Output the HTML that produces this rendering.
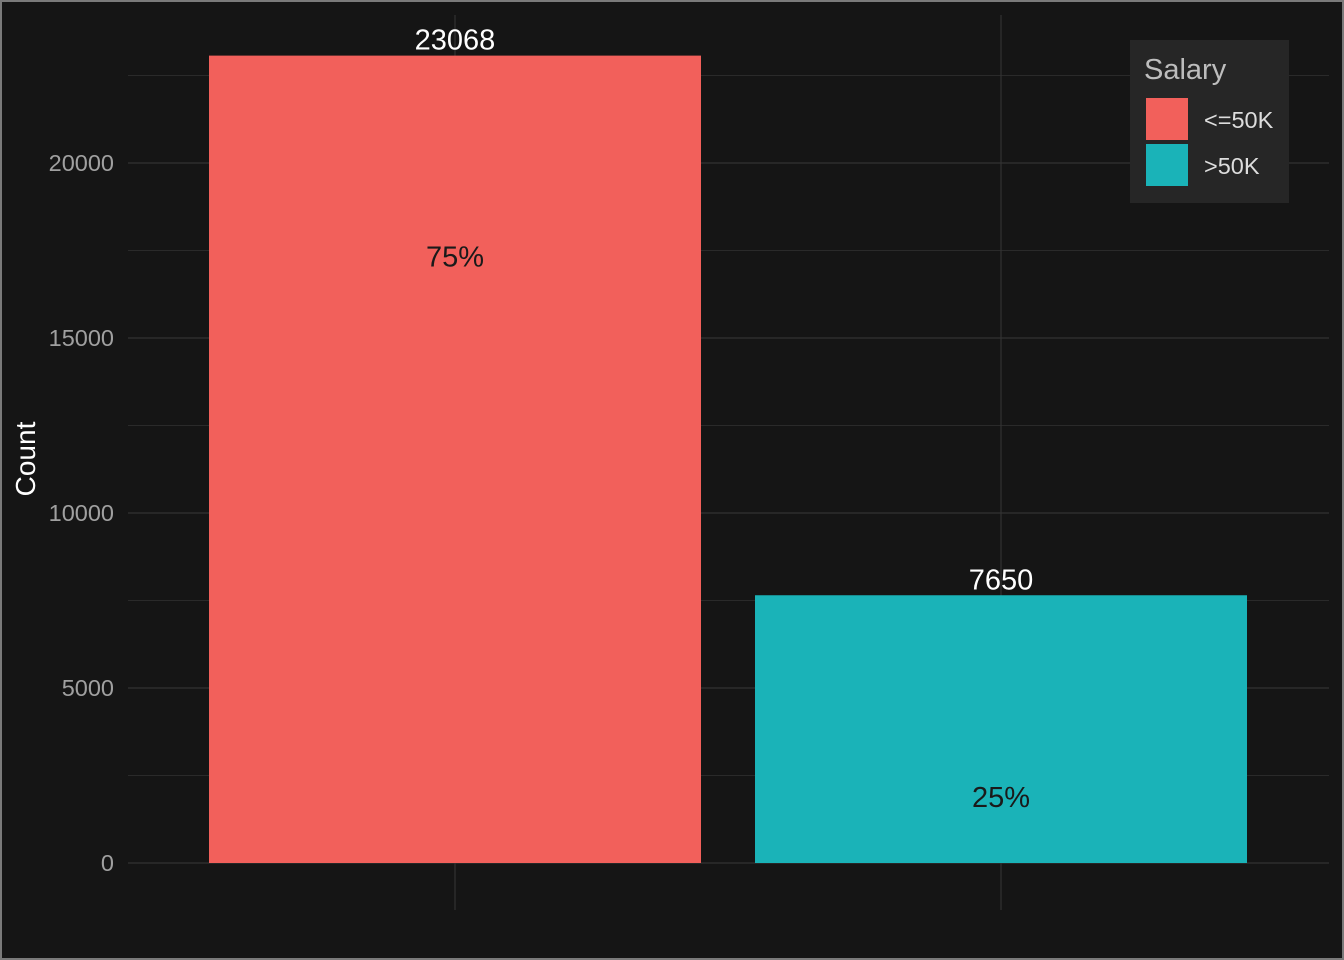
<!DOCTYPE html>
<html><head><meta charset="utf-8"><style>
html,body{margin:0;padding:0;background:#151515;}
svg{display:block;font-family:"Liberation Sans",Arial,sans-serif;}
</style></head><body>
<svg id="chart" width="1344" height="960">
<rect x="1" y="1" width="1342" height="958" fill="#151515" stroke="#7a7a7a" stroke-width="2"/>
<g id="grid"></g><g id="bars"></g><g id="labels"></g>
<text x="35" y="459" transform="rotate(-90 35 459)" text-anchor="middle" fill="#ffffff" font-size="28">Count</text>
<g>
<rect x="1130" y="40" width="159" height="163" fill="#262626"/>
<text x="1144" y="79" fill="#bdbdbd" font-size="29">Salary</text>
<rect x="1146" y="98" width="42" height="42" fill="#F2605B"/>
<text x="1204" y="128" fill="#dddddd" font-size="23.5">&lt;=50K</text>
<rect x="1146" y="144" width="42" height="42" fill="#1AB3B8"/>
<text x="1204" y="174" fill="#dddddd" font-size="23.5">&gt;50K</text>
</g>
</svg>
<script>
const categories = ["<=50K", ">50K"];
const counts = [23068, 7650];
const percents = ["75%", "25%"];
const colors = ["#F2605B", "#1AB3B8"];
const yTicks = [0, 5000, 10000, 15000, 20000];
const yMinor = [2500, 7500, 12500, 17500, 22500];
const NS = "http://www.w3.org/2000/svg";
const y = v => 863 - v * 0.035;
const xc = i => 455 + i * 546;
const barW = 492;
function mk(tag, attrs, parent){const e=document.createElementNS(NS,tag);for(const k in attrs)e.setAttribute(k,attrs[k]);parent.appendChild(e);return e;}
const grid=document.getElementById('grid'), bars=document.getElementById('bars'), labels=document.getElementById('labels');
yMinor.forEach(v=>{const l=mk('line',{x1:128,x2:1329,y1:y(v),y2:y(v),stroke:'#2a2a2a','stroke-width':1},grid);

});
yTicks.forEach(v=>{const l=mk('line',{x1:128,x2:1329,y1:y(v),y2:y(v),stroke:'#333333','stroke-width':1.2},grid);


const t=mk('text',{x:114,y:y(v)+8,'text-anchor':'end',fill:'#a0a0a0','font-size':23.5},grid);t.textContent=v;

});
categories.forEach((c,i)=>{const l=mk('line',{x1:xc(i),x2:xc(i),y1:15,y2:910,stroke:'#333333','stroke-width':1.2},grid);

});
categories.forEach((c,i)=>{
const r=mk('rect',{x:xc(i)-barW/2,y:y(counts[i]),width:barW,height:y(0)-y(counts[i]),fill:colors[i]},bars);


const t=mk('text',{x:xc(i),y:y(counts[i])-6,'text-anchor':'middle',fill:'#ffffff','font-size':29},labels);t.textContent=counts[i];


const p=mk('text',{x:xc(i),y:(i ? y(0)-56 : y(counts[i])+211),'text-anchor':'middle',fill:'#1a1a1a','font-size':29},labels);p.textContent=percents[i];


});
</script>
</body></html>
